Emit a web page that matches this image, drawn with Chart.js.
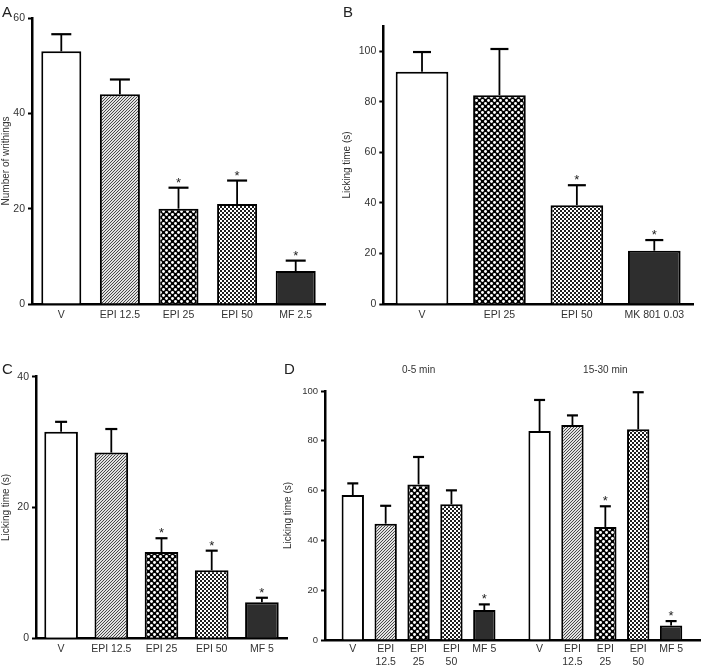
<!DOCTYPE html>
<html>
<head>
<meta charset="utf-8">
<script src="https://cdn.jsdelivr.net/npm/chart.js@4.4.0/dist/chart.umd.min.js"></script>
<style>
body { margin: 0; background: #fff; width: 704px; height: 666px; position: relative; overflow: hidden; font-family: "Liberation Sans", Arial, sans-serif; }
canvas { position: absolute; }
.panel { position: absolute; font-size: 15px; color: #222; line-height: 1; }
</style>
</head>
<body>
<canvas id="chartA" width="340" height="330" style="left:0;top:0"></canvas>
<canvas id="chartB" width="364" height="330" style="left:340px;top:0"></canvas>
<canvas id="chartC" width="300" height="336" style="left:0;top:330px"></canvas>
<canvas id="chartD" width="426" height="336" style="left:278px;top:330px"></canvas>
<div class="panel" style="left:2px;top:4px">A</div>
<div class="panel" style="left:343px;top:4px">B</div>
<div class="panel" style="left:2px;top:361px">C</div>
<div class="panel" style="left:284px;top:361px">D</div>
<script>
// Data panel A (writhings)
var catsA = ['V', 'EPI 12.5', 'EPI 25', 'EPI 50', 'MF 2.5'];
var meanA = [53, 44, 20, 21, 6.9];
var errA = [56.6, 47.1, 24.4, 25.9, 9.1];
var starA = [false, false, true, true, true];
var ticksA = [0, 20, 40, 60];

// Data panel B
var catsB = ['V', 'EPI 25', 'EPI 50', 'MK 801 0.03'];
var meanB = [91.9, 82.6, 39.1, 21.1];
var errB = [99.7, 100.9, 47.0, 25.3];
var starB = [false, false, true, true];
var ticksB = [0, 20, 40, 60, 80, 100];

// Data panel C
var catsC = ['V', 'EPI 12.5', 'EPI 25', 'EPI 50', 'MF 5'];
var meanC = [31.6, 28.4, 13.2, 10.4, 5.5];
var errC = [33.1, 32.0, 15.3, 13.4, 6.2];
var starC = [false, false, true, true, true];
var ticksC = [0, 20, 40];

// Data panel D (two phases)
var catsD = [['V'], ['EPI', '12.5'], ['EPI', '25'], ['EPI', '50'], ['MF 5']];
var phasesD = ['0-5 min', '15-30 min'];
var meanD1 = [58.2, 46.7, 62.5, 54.5, 12.0];
var errD1 = [62.9, 53.9, 73.5, 60.1, 14.3];
var starD1 = [false, false, false, false, true];
var meanD2 = [83.9, 86.3, 45.4, 84.6, 5.8];
var errD2 = [96.4, 90.2, 53.7, 99.5, 7.6];
var starD2 = [false, false, true, false, true];
var ticksD = [0, 20, 40, 60, 80, 100];

document.addEventListener("DOMContentLoaded", function() {
    Chart.defaults.font.family = '"Liberation Sans", Arial, sans-serif';
    Chart.defaults.color = '#333';

    // fill patterns
    function makePattern(size, draw) {
        var c = document.createElement('canvas');
        c.width = size; c.height = size;
        var g = c.getContext('2d');
        draw(g);
        return g.createPattern(c, 'repeat');
    }
    var open = '#ffffff';
    var solid = '#2e2e2e';
    var hatch = makePattern(3, function(g) {
        g.fillStyle = '#e2e2e2'; g.fillRect(0, 0, 3, 3);
        g.fillStyle = '#4a4a4a';
        g.fillRect(2, 0, 1, 1); g.fillRect(1, 1, 1, 1); g.fillRect(0, 2, 1, 1);
    });
    var bigCheck = makePattern(6, function(g) {
        g.fillStyle = '#000'; g.fillRect(0, 0, 6, 6);
        g.fillStyle = '#fff';
        [[1.5, 1.5], [4.5, 4.5]].forEach(function(p) {
            g.beginPath(); g.arc(p[0], p[1], 1.45, 0, Math.PI * 2); g.fill();
        });
    });
    var smallCheck = makePattern(4, function(g) {
        g.fillStyle = '#fff'; g.fillRect(0, 0, 4, 4);
        g.fillStyle = '#1e1e1e';
        g.fillRect(2, 0, 2, 2); g.fillRect(0, 2, 2, 2);
    });

    // error bars + stars
    var errorBars = {
        id: 'errorBars',
        afterDatasetsDraw: function(chart, args, opts) {
            var ctx = chart.ctx, y = chart.scales.y;
            var meta = chart.getDatasetMeta(0);
            ctx.save();
            ctx.strokeStyle = '#000';
            ctx.fillStyle = '#222';
            ctx.font = '13px "Liberation Sans", Arial';
            ctx.textAlign = 'center';
            ctx.textBaseline = 'alphabetic';
            meta.data.forEach(function(bar, i) {
                var top = y.getPixelForValue(opts.tops[i]);
                ctx.lineWidth = 1.8;
                ctx.beginPath(); ctx.moveTo(bar.x, bar.y); ctx.lineTo(bar.x, top); ctx.stroke();
                ctx.lineWidth = 2.2;
                ctx.beginPath(); ctx.moveTo(bar.x - opts.cap / 2, top); ctx.lineTo(bar.x + opts.cap / 2, top); ctx.stroke();
                if (opts.stars[i]) ctx.fillText('*', bar.x, top - 1);
            });
            ctx.restore();
        }
    };

    // phase titles for panel D
    var phaseTitles = {
        id: 'phaseTitles',
        afterDraw: function(chart, args, opts) {
            if (!opts.centers) return;
            var ctx = chart.ctx, x = chart.scales.x;
            ctx.save();
            ctx.fillStyle = '#333';
            ctx.font = '10px "Liberation Sans", Arial';
            ctx.textAlign = 'center';
            ctx.textBaseline = 'middle';
            opts.centers.forEach(function(c, i) {
                ctx.fillText(opts.labels[i], x.getPixelForValue(c), opts.y);
            });
            ctx.restore();
        }
    };

    function yAxis(max, ticks, width, title, titlePad, fontSize) {
        return {
            min: 0, max: max,
            afterBuildTicks: function(s) { s.ticks = ticks.map(function(v) { return {value: v}; }); },
            afterFit: function(s) { s.width = width; },
            border: { color: '#000', width: 2.5 },
            grid: { drawOnChartArea: false, drawTicks: true, tickLength: 4, tickWidth: 2, tickColor: '#000' },
            ticks: { font: { size: fontSize }, padding: 3, color: '#333' },
            title: { display: true, text: title, font: { size: 10 }, padding: { top: titlePad, bottom: 0 }, color: '#333' }
        };
    }
    function xAxis(height, fontSize) {
        return {
            afterFit: function(s) { s.height = height; },
            border: { color: '#000', width: 2.5 },
            grid: { drawOnChartArea: false, drawTicks: false },
            ticks: { font: { size: fontSize }, padding: 5, color: '#333', maxRotation: 0, autoSkip: false }
        };
    }

    function barChart(id, cats, mean, err, stars, fills, pct, cap, y, x, padding) {
        return new Chart(document.getElementById(id).getContext('2d'), {
            type: 'bar',
            data: {
                labels: cats,
                datasets: [{
                    data: mean,
                    backgroundColor: fills,
                    borderColor: '#000',
                    borderWidth: 2,
                    barPercentage: pct,
                    categoryPercentage: 1
                }]
            },
            options: {
                responsive: false,
                animation: false,
                layout: { padding: padding },
                scales: { x: x, y: y },
                plugins: {
                    legend: { display: false },
                    tooltip: { enabled: false },
                    errorBars: { tops: err, stars: stars, cap: cap }
                }
            },
            plugins: [errorBars]
        });
    }

    barChart('chartA', catsA, meanA, errA, starA, [open, hatch, bigCheck, smallCheck, solid], 0.683, 20,
        yAxis(60, ticksA, 32, 'Number of writhings', 0, 10.5), xAxis(26, 10.5),
        { left: 0, right: 15, top: 18, bottom: 0 });

    barChart('chartB', catsB, meanB, errB, starB, [open, bigCheck, smallCheck, solid], 0.68, 18,
        yAxis(110, ticksB, 43.3, 'Licking time (s)', 1, 10.5), xAxis(26, 10.5),
        { left: 0, right: 11, top: 26, bottom: 0 });

    barChart('chartC', catsC, meanC, errC, starC, [open, hatch, bigCheck, smallCheck, solid], 0.67, 12,
        yAxis(40, ticksC, 36, 'Licking time (s)', 0, 10.5), xAxis(27.7, 10.5),
        { left: 0, right: 13, top: 46.7, bottom: 0 });

    // panel D: two groups of five bars on a linear index axis with a gap between groups
    var groupGap = 0.68;
    var posD = [], valD = [], errD = [], starD = [], labD = [];
    [[meanD1, errD1, starD1], [meanD2, errD2, starD2]].forEach(function(g, gi) {
        g[0].forEach(function(v, i) {
            posD.push(gi * (5 + groupGap) + i);
            valD.push(v); errD.push(g[1][i]); starD.push(g[2][i]); labD.push(catsD[i]);
        });
    });
    var fillsD = [open, hatch, bigCheck, smallCheck, solid, open, hatch, bigCheck, smallCheck, solid];
    var xD = xAxis(26, 10.5);
    xD.type = 'linear';
    xD.min = -0.845;
    xD.max = 10.58;
    xD.offset = false;
    xD.bounds = 'data';
    xD.grid.offset = false;
    xD.ticks.padding = 3;
    xD.afterBuildTicks = function(s) { s.ticks = posD.map(function(v) { return {value: v}; }); };
    xD.ticks.callback = function(v, i) { return labD[i]; };

    new Chart(document.getElementById('chartD').getContext('2d'), {
        type: 'bar',
        data: {
            datasets: [{
                data: posD.map(function(p, i) { return {x: p, y: valD[i]}; }),
                backgroundColor: fillsD,
                borderColor: '#000',
                borderWidth: 2,
                barPercentage: 0.68,
                categoryPercentage: 1
            }]
        },
        options: {
            responsive: false,
            animation: false,
            layout: { padding: { left: 0, right: 3.3, top: 61, bottom: 0 } },
            scales: { x: xD, y: yAxis(100, ticksD, 47, 'Licking time (s)', 4, 9.5) },
            plugins: {
                legend: { display: false },
                tooltip: { enabled: false },
                errorBars: { tops: errD, stars: starD, cap: 11 },
                phaseTitles: { labels: phasesD, centers: [2, 7 + groupGap], y: 40 }
            }
        },
        plugins: [errorBars, phaseTitles]
    });
});
</script>
</body>
</html>
